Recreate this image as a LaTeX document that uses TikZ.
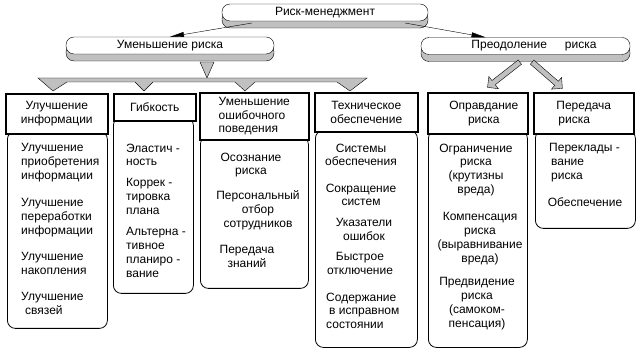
\documentclass[tikz,border=0pt]{standalone}
\usepackage{fontspec}
\setmainfont{Liberation Sans}
\usetikzlibrary{shadows,shapes.arrows,arrows.meta,calc}
\definecolor{silver}{RGB}{192,192,192}

\begin{document}
\begin{tikzpicture}[x=1pt,y=-1pt,
  font=\fontsize{12}{13.75}\selectfont,
  pill/.style={draw,fill=white,rounded corners=8pt,minimum height=17pt,inner sep=0pt,
    copy shadow={shadow xshift=0pt,shadow yshift=-7pt,fill=silver}},
  head/.style={draw,line width=1.6pt,fill=white,align=center,inner sep=0pt,anchor=north west},
  panel/.style={draw,line width=0.8pt,fill=white,rounded corners=8pt,inner sep=0pt,anchor=north west},
  item/.style={inner sep=0pt,align=center,anchor=north},
  litem/.style={inner sep=0pt,align=left,anchor=north west},
  blockarrow/.style={single arrow,draw,fill=silver,inner sep=2.5pt,
    single arrow head extend=5pt,minimum height=41pt,anchor=tail},
  thinarrow/.style={-{Triangle[length=14pt,width=5pt]}}]
  \useasboundingbox (0,0) rectangle (642,352);

  % top level
  \node[pill,minimum width=206pt] (risk) at (325,12.5) {Риск-менеджмент};
  \node[pill,minimum width=208pt] (red) at (170,45.5) {Уменьшение риска};
  \node[pill,minimum width=209pt] (over) at (525.5,46) {\hspace*{17pt}Преодоление\hspace{18pt}риска};

  \coordinate (rl) at (252,23);
  \coordinate (rr) at (405,23);
  \draw[thinarrow] (rl) -- (red.north);
  \draw[thinarrow] (rr) -- ($(over.north)+(-40,0)$);

  % fork under "Уменьшение риска"
  \draw[fill=silver] (200,62) -- (214,62) -- (207,78) -- cycle;
  \draw[fill=silver] (38,78) -- (367,78) -- (350,91) -- (337,82) -- (255,82) -- (245,91)
    -- (235,82) -- (153,82) -- (144,91) -- (135,82) -- (67,82) -- (53,91) -- cycle;

  % arrows under "Преодоление риска"
  \coordinate (a1) at (520,62);
  \coordinate (a2) at (532,62);
  \node[blockarrow,rotate=218] (ar1) at (a1) {};
  \node[blockarrow,rotate=-41,minimum height=40pt] (ar2) at (a2) {};

  % panels
  \node[panel,minimum width=100pt,minimum height=197pt] (c1) at (7,131) {};
  \node[panel,minimum width=80pt,minimum height=176pt] (c2) at (113,117) {};
  \node[panel,minimum width=108pt,minimum height=152pt] (c3) at (200,136) {};
  \node[panel,minimum width=102pt,minimum height=217pt] (c4) at (315,130) {};
  \node[panel,minimum width=99pt,minimum height=217pt] (c5) at (428,130) {};
  \node[panel,minimum width=100pt,minimum height=98pt] (c6) at (535,130) {};

  % headers
  \node[head,minimum width=102pt,minimum height=40pt] (h1) at (5,93) {Улучшение\\информации};
  \node[head,minimum width=82pt,minimum height=27pt] (h2) at (113,93) {Гибкость};
  \node[head,minimum width=109pt,minimum height=47pt,align=left] (h3) at (199,92) {Уменьшение\\ошибочного\\поведения};
  \node[head,minimum width=103pt,minimum height=39pt] (h4) at (314,92) {Техническое\\обеспечение};
  \node[head,minimum width=100pt,minimum height=41pt] (h5) at (427,92) {\hspace*{12pt}Оправдание\\\hspace*{12pt}риска};
  \node[head,minimum width=100pt,minimum height=41pt,align=left] (h6) at (533,92) {Передача\\\hspace*{2pt}риска};

  % items
  \node[litem] (i11) at (21,143.5) {Улучшение\\приобретения\\информации};
  \node[litem] (i12) at (21,198.5) {Улучшение\\переработки\\информации};
  \node[litem] (i13) at (21,252.5) {Улучшение\\накопления};
  \node[litem] (i14) at (21,292.5) {Улучшение\\\hspace*{4pt}связей};

  \node[litem] (i21) at (126,143.5) {Эластич -\\ность};
  \node[litem] (i22) at (126,178.5) {Коррек -\\тировка\\плана};
  \node[litem] (i23) at (126,227.5) {Альтерна -\\тивное\\планиро -\\вание};

  \node[item] (i31) at (251,152.5) {Осознание\\риска};
  \node[item] (i32) at (258,190.5) {Персональный\\отбор\\сотрудников};
  \node[item] (i33) at (247,245.5) {Передача\\знаний};

  \node[item] (i41) at (361,143.5) {Системы\\обеспечения};
  \node[item] (i42) at (361,183.5) {Сокращение\\систем};
  \node[item] (i43) at (364,218.5) {Указатели\\ошибок};
  \node[item] (i44) at (360,252.5) {Быстрое\\отключение};
  \node[litem] (i45) at (326,292.5) {Содержание\\\hspace*{3pt}в исправном\\состоянии};

  \node[item] (i51) at (476,143.5) {Ограничение\\риска\\(крутизны\\вреда)};
  \node[item] (i52) at (480,212.5) {Компенсация\\риска\\(выравнивание\\вреда)};
  \node[item] (i53) at (477,277.5) {Предвидение\\риска\\(самоком-\\пенсация)};

  \node[litem] (i61) at (549,143.5) {Переклады -\\\hspace*{2pt}вание\\\hspace*{2pt}риска};
  \node[item] (i62) at (585,197.5) {Обеспечение};
\end{tikzpicture}
\end{document}
